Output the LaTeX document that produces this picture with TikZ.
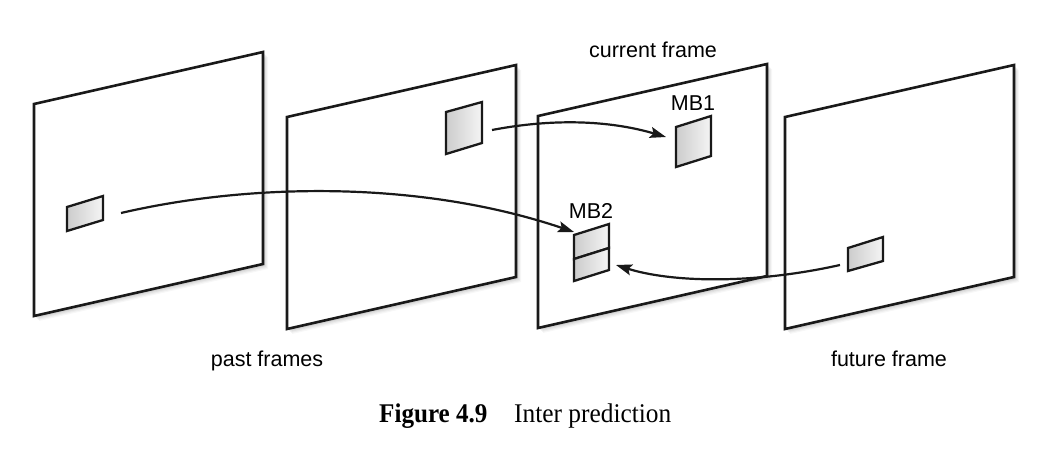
\documentclass[tikz,border=0pt]{standalone}
\usepackage{fontspec}
\setmainfont{Liberation Serif}
\newfontfamily\labelfont{Liberation Sans}
\usetikzlibrary{arrows.meta}
\newcommand\vframe[3]{%
  \foreach \d/\o in {5/0.03,4/0.04,3/0.05,2/0.06}{%
    \fill[black,opacity=\o] (#1+\d,#2+\d) -- ++(229,-52) -- ++(0,212) -- ++(-229,52) -- cycle;}
  \draw[frame] (#1,#2) coordinate (#3) -- ++(229,-52) -- ++(0,212) -- ++(-229,52) -- cycle;}
\begin{document}
\begin{tikzpicture}[x=1pt,y=-1pt,
  frame/.style={draw=black!90, line width=2.6pt, fill=white, line join=miter},
  blk/.style={draw=black!90, line width=2.3pt, left color=black!20, right color=black!4, line join=miter},
  conn/.style={draw=black!90, line width=2.2pt, -{Stealth[length=16pt,width=11pt,inset=3pt]}},
  lbl/.style={font=\labelfont\fontsize{21.5}{24}\selectfont, anchor=base, inner sep=0pt},
  capb/.style={font=\fontsize{27}{30}\selectfont\bfseries, anchor=base west, inner sep=0pt, xscale=0.93},
  capr/.style={font=\fontsize{27}{30}\selectfont, anchor=base west, inner sep=0pt, xscale=0.94}
]
\useasboundingbox (0,0) rectangle (1057,474);

% frames
\vframe{34}{104}{f1}
\vframe{287}{117}{f2}
\vframe{538}{116}{f3}
\vframe{785}{117}{f4}

% blocks
\draw[blk] (67,207) -- (103,196) -- (103,220) -- (67,231) -- cycle;
\draw[blk] (446,112) -- (482,102) -- (482,143) -- (446,154) -- cycle;
\draw[blk] (676,127) -- (711,116) -- (711,156) -- (676,167) -- cycle;
\draw[blk] (574,235) -- (609,224) -- (609,248) -- (574,259) -- cycle;
\draw[blk] (574,259) -- (609,248) -- (609,270) -- (574,281) -- cycle;
\draw[blk] (848,248) -- (883,237) -- (883,261) -- (848,271) -- cycle;

% connector ends
\coordinate (s1) at (492,130);
\coordinate (e1) at (666,137);
\coordinate (s2) at (121,213);
\coordinate (e2) at (574,232);
\coordinate (s3) at (840,265);
\coordinate (e3) at (616,265);

\draw[conn] (s1) .. controls (560,117) and (615,122) .. (e1);
\draw[conn] (s2) .. controls (250,183) and (420,180) .. (e2);
\draw[conn] (s3) .. controls (750,285) and (670,282) .. (e3);

% labels
\node[lbl] (cur) at (653,57) {current frame};
\node[lbl] (mb1) at (693,110) {MB1};
\node[lbl] (mb2) at (591,218) {MB2};
\node[lbl] (past) at (267,366) {past frames};
\node[lbl] (fut) at (889,366) {future frame};

% caption
\node[capb] (capnum) at (379,422) {Figure 4.9};
\node[capr] (captxt) at (514,422) {Inter prediction};
\end{tikzpicture}
\end{document}
